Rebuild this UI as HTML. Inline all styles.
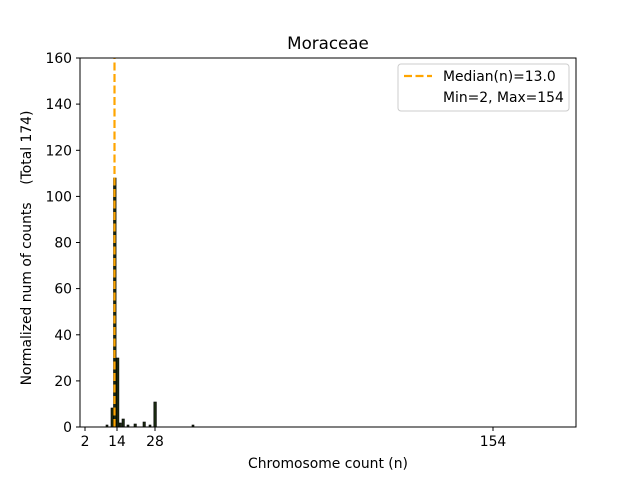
<!DOCTYPE html>
<html><head><meta charset="utf-8"><style>
html,body{margin:0;padding:0;background:#fff}
svg{display:block;font-family:"DejaVu Sans","Liberation Sans",sans-serif}
</style></head><body>
<svg width="640" height="480" viewBox="0 0 640 480" xmlns="http://www.w3.org/2000/svg">
<rect width="640" height="480" fill="#fff"/>
<text x="328" y="49" font-size="16.7" text-anchor="middle">Moraceae</text>
<g fill="#1a2a10" stroke="#000" stroke-width="0.6">
<rect x="106" y="425" width="2" height="2"/>
<rect x="111" y="408" width="2.6" height="19"/>
<rect x="113.5" y="178" width="2.6" height="249"/>
<rect x="116.3" y="358" width="2.6" height="69"/>
<rect x="119" y="423" width="2.4" height="4"/>
<rect x="122" y="419" width="2.4" height="8"/>
<rect x="127" y="425" width="2" height="2"/>
<rect x="134" y="424" width="2.4" height="3"/>
<rect x="143" y="422" width="2.4" height="5"/>
<rect x="149" y="425" width="2" height="2"/>
<rect x="153.8" y="402" width="2.6" height="25"/>
<rect x="192" y="425" width="2" height="2"/>
</g>
<line x1="114.5" y1="427" x2="114.5" y2="58" stroke="#ffa500" stroke-width="2.2" stroke-dasharray="8,3.5"/>
<rect x="80" y="58" width="496" height="369" fill="none" stroke="#000" stroke-width="1"/>
<g stroke="#000" stroke-width="1">
<line x1="76" y1="427" x2="80" y2="427"/>
<line x1="76" y1="380.9" x2="80" y2="380.9"/>
<line x1="76" y1="334.8" x2="80" y2="334.8"/>
<line x1="76" y1="288.6" x2="80" y2="288.6"/>
<line x1="76" y1="242.5" x2="80" y2="242.5"/>
<line x1="76" y1="196.4" x2="80" y2="196.4"/>
<line x1="76" y1="150.3" x2="80" y2="150.3"/>
<line x1="76" y1="104.1" x2="80" y2="104.1"/>
<line x1="76" y1="58" x2="80" y2="58"/>
<line x1="85" y1="427" x2="85" y2="431"/>
<line x1="117" y1="427" x2="117" y2="431"/>
<line x1="155" y1="427" x2="155" y2="431"/>
<line x1="493" y1="427" x2="493" y2="431"/>
</g>
<g font-size="13.9" text-anchor="end">
<text x="72" y="432">0</text>
<text x="72" y="385.9">20</text>
<text x="72" y="339.8">40</text>
<text x="72" y="293.6">60</text>
<text x="72" y="247.5">80</text>
<text x="72" y="201.4">100</text>
<text x="72" y="155.3">120</text>
<text x="72" y="109.1">140</text>
<text x="72" y="63">160</text>
</g>
<g font-size="13.9" text-anchor="middle">
<text x="85" y="446">2</text>
<text x="117" y="446">14</text>
<text x="155" y="446">28</text>
<text x="493" y="446">154</text>
</g>
<text x="328" y="468" font-size="13.9" text-anchor="middle">Chromosome count (n)</text>
<text transform="translate(36,248) rotate(-90)" font-size="13.9" text-anchor="middle" xml:space="preserve" dy="-5">Normalized num of counts    (Total 174)</text>
<rect x="398" y="64" width="171" height="47" rx="3" fill="#fff" stroke="#ccc" stroke-width="1"/>
<line x1="404" y1="76" x2="432" y2="76" stroke="#ffa500" stroke-width="2.2" stroke-dasharray="8,3.5"/>
<text x="443" y="81" font-size="13.9">Median(n)=13.0</text>
<text x="443" y="102" font-size="13.9">Min=2, Max=154</text>
</svg>
</body></html>
